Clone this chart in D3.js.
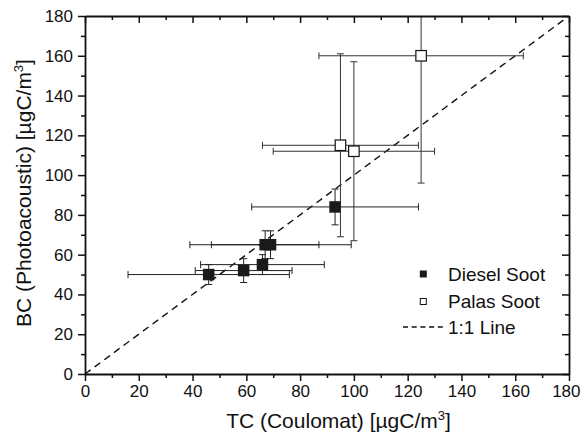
<!DOCTYPE html>
<html><head><meta charset="utf-8">
<script src="https://cdn.jsdelivr.net/npm/d3@7/dist/d3.min.js"></script>
<style>
html,body{margin:0;padding:0;background:#fff;}
svg text{font-family:"Liberation Sans",Arial,sans-serif;fill:#111;}
</style></head>
<body>
<svg id="chart" width="581" height="432"></svg>
<script>
// Diesel soot: TC (x), BC (y) with uncertainties
const dieselTC  = [46, 59, 66, 67, 69, 93];
const dieselBC  = [50, 52, 55, 65, 65, 84];
const dieselTCerr = [30, 18, 23, 20, 30, 31];
const dieselBCerr = [5, 6, 5, 7, 7, 9];
// Palas soot
const palasTC  = [95, 100, 125];
const palasBC  = [115, 112, 160];
const palasTCerr = [29, 30, 38];
const palasBCerr = [46, 45, 64];
// axes
const majorTicks = [0, 20, 40, 60, 80, 100, 120, 140, 160, 180];
const minorTicks = [10, 30, 50, 70, 90, 110, 130, 150, 170];
const legendLabels = ["Diesel Soot", "Palas Soot", "1:1 Line"];
const xTitle = "TC (Coulomat) [µgC/m";
const yTitle = "BC (Photoacoustic) [µgC/m";

const svg = d3.select("#chart");
const L = 85, R = 569, T = 16, B = 374;
const x = d3.scaleLinear().domain([0, 180]).range([L, R]);
const y = d3.scaleLinear().domain([0, 180]).range([B, T]);

svg.append("defs").append("clipPath").attr("id", "clip")
  .append("rect").attr("x", L).attr("y", T).attr("width", R - L).attr("height", B - T);

const plot = svg.append("g").attr("clip-path", "url(#clip)");

// 1:1 line
plot.append("line")
  .attr("x1", x(0)).attr("y1", y(0)).attr("x2", x(180)).attr("y2", y(180))
  .attr("stroke", "#111").attr("stroke-width", 1.4).attr("stroke-dasharray", "7,5");

function errorBars(xs, ys, xe, ye, color) {
  const cap = 3.5;
  xs.forEach((xv, i) => {
    const yv = ys[i];
    const g = plot.append("g").attr("stroke", color).attr("stroke-width", 1).attr("fill", "none");
    g.append("line").attr("x1", x(xv - xe[i])).attr("x2", x(xv + xe[i])).attr("y1", y(yv)).attr("y2", y(yv));
    g.append("line").attr("x1", x(xv - xe[i])).attr("x2", x(xv - xe[i])).attr("y1", y(yv) - cap).attr("y2", y(yv) + cap);
    g.append("line").attr("x1", x(xv + xe[i])).attr("x2", x(xv + xe[i])).attr("y1", y(yv) - cap).attr("y2", y(yv) + cap);
    g.append("line").attr("x1", x(xv)).attr("x2", x(xv)).attr("y1", y(yv - ye[i])).attr("y2", y(yv + ye[i]));
    g.append("line").attr("x1", x(xv) - cap).attr("x2", x(xv) + cap).attr("y1", y(yv - ye[i])).attr("y2", y(yv - ye[i]));
    g.append("line").attr("x1", x(xv) - cap).attr("x2", x(xv) + cap).attr("y1", y(yv + ye[i])).attr("y2", y(yv + ye[i]));
  });
}
errorBars(dieselTC, dieselBC, dieselTCerr, dieselBCerr, "#222");
errorBars(palasTC, palasBC, palasTCerr, palasBCerr, "#333");

const ms = 11.5;
plot.selectAll(".diesel").data(dieselTC).enter().append("rect")
  .attr("x", (d) => x(d) - ms / 2).attr("y", (d, i) => y(dieselBC[i]) - ms / 2)
  .attr("width", ms).attr("height", ms).attr("fill", "#1a1a1a");
plot.selectAll(".palas").data(palasTC).enter().append("rect")
  .attr("x", (d) => x(d) - ms / 2 + 0.5).attr("y", (d, i) => y(palasBC[i]) - ms / 2 + 0.5)
  .attr("width", ms - 1).attr("height", ms - 1).attr("fill", "#fff").attr("stroke", "#111").attr("stroke-width", 1.2);

// axes
const fs = 17;
function styleAxis(g) {
  g.select(".domain").attr("stroke", "#111").attr("stroke-width", 1.8);
  g.selectAll(".tick line").attr("stroke", "#111").attr("stroke-width", 1.5);
}
const bx = svg.append("g").attr("transform", `translate(0,${B})`)
  .call(d3.axisBottom(x).tickValues(majorTicks).tickSize(7).tickSizeOuter(0).tickPadding(4).tickFormat(d3.format("d")));
styleAxis(bx);
bx.selectAll("text").attr("font-size", fs).attr("fill", "#111");
// keep the last label inside the page
bx.selectAll(".tick").filter((d) => d === 180).select("text").attr("text-anchor", "end").attr("x", 580 - x(180));
svg.append("g").attr("transform", `translate(0,${B})`)
  .call(d3.axisBottom(x).tickValues(minorTicks).tickSize(4).tickFormat("")).call(styleAxis)
  .select(".domain").remove();

const lx = svg.append("g").attr("transform", `translate(${L},0)`)
  .call(d3.axisLeft(y).tickValues(majorTicks).tickSize(7).tickSizeOuter(0).tickPadding(5).tickFormat(d3.format("d")));
styleAxis(lx);
lx.selectAll("text").attr("font-size", fs).attr("fill", "#111");
svg.append("g").attr("transform", `translate(${L},0)`)
  .call(d3.axisLeft(y).tickValues(minorTicks).tickSize(4).tickFormat("")).call(styleAxis)
  .select(".domain").remove();

const tx = svg.append("g").attr("transform", `translate(0,${T})`)
  .call(d3.axisTop(x).tickValues(majorTicks).tickSize(-7).tickSizeOuter(0).tickFormat(""));
styleAxis(tx);
svg.append("g").attr("transform", `translate(0,${T})`)
  .call(d3.axisTop(x).tickValues(minorTicks).tickSize(-4).tickFormat("")).call(styleAxis)
  .select(".domain").remove();

const rx = svg.append("g").attr("transform", `translate(${R},0)`)
  .call(d3.axisRight(y).tickValues(majorTicks).tickSize(-7).tickSizeOuter(0).tickFormat(""));
styleAxis(rx);
svg.append("g").attr("transform", `translate(${R},0)`)
  .call(d3.axisRight(y).tickValues(minorTicks).tickSize(-4).tickFormat("")).call(styleAxis)
  .select(".domain").remove();

// titles
const tfs = 21;
const xt = svg.append("text").attr("x", 338.5).attr("y", 428).attr("text-anchor", "middle").attr("font-size", tfs);
xt.append("tspan").text(xTitle);
xt.append("tspan").attr("font-size", tfs * 0.62).attr("dy", -8).text("3");
xt.append("tspan").attr("dy", 8).text("]");

const yt = svg.append("text").attr("transform", "translate(31,193) rotate(-90)").attr("text-anchor", "middle").attr("font-size", tfs);
yt.append("tspan").text(yTitle);
yt.append("tspan").attr("font-size", tfs * 0.62).attr("dy", -8).text("3");
yt.append("tspan").attr("dy", 8).text("]");

// legend
const lg = svg.append("g");
const lfs = 19;
const ly = [274, 301.5, 327];
lg.append("rect").attr("x", 423.3 - 3.5).attr("y", ly[0] - 3.5).attr("width", 7).attr("height", 7).attr("fill", "#1a1a1a");
lg.append("rect").attr("x", 423.3 - 3).attr("y", ly[1] - 3).attr("width", 6).attr("height", 6).attr("fill", "#fff").attr("stroke", "#111").attr("stroke-width", 1);
lg.append("line").attr("x1", 403).attr("x2", 444).attr("y1", ly[2]).attr("y2", ly[2])
  .attr("stroke", "#111").attr("stroke-width", 1.3).attr("stroke-dasharray", "5,3.7");
legendLabels.forEach((t, i) => {
  lg.append("text").attr("x", 448).attr("y", ly[i]).attr("dy", "0.36em").attr("font-size", lfs).text(t);
});
</script>
</body></html>
